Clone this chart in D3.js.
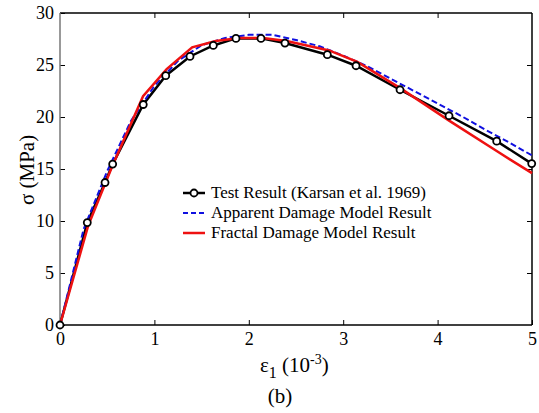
<!DOCTYPE html>
<html lang="en">
<head>
<meta charset="utf-8">
<title>Stress strain</title>
<script src="https://cdnjs.cloudflare.com/ajax/libs/d3/7.8.5/d3.min.js"></script>
<style>
body{margin:0;background:#fff;}
svg text{font-family:"Liberation Serif","DejaVu Serif","Times New Roman",serif !important;fill:#000;}
</style>
</head>
<body>
<script>
// test points (Karsan et al. 1969)
var testX = [0,0.289,0.477,0.558,0.882,1.12,1.377,1.624,1.864,2.129,2.383,2.832,3.136,3.602,4.121,4.626,4.997];
var testY = [0,9.85,13.7,15.47,21.2,23.97,25.82,26.88,27.56,27.56,27.11,25.99,24.93,22.62,20.12,17.68,15.52];

// apparent damage model
var appX = [0,0.25,0.5,0.75,1.0,1.25,1.5,1.75,2.0,2.25,2.5,2.75,3.0,3.25,3.5,3.75,4.0,4.25,4.5,4.75,5.0];
var appY = [0,9.2,14.8,19.6,23.0,25.4,26.9,27.6,27.9,27.9,27.4,26.8,25.9,24.9,23.7,22.5,21.3,20.1,18.8,17.6,16.3];

// fractal damage model
var fracX = [0,0.3,0.55,0.88,1.13,1.4,1.65,1.9,2.15,2.4,2.85,3.15,3.6,4.13,4.63,5.0];
var fracY = [0,9.6,15.2,22.0,24.6,26.7,27.3,27.6,27.6,27.3,26.4,25.3,22.8,19.6,16.7,14.6];

var xTicks = [0,1,2,3,4,5];
var yTicks = [0,5,10,15,20,25,30];
var legendLabels = ["Test Result (Karsan et al. 1969)","Apparent Damage Model Result","Fractal Damage Model Result"];

var w = 539, h = 413;
var svg = d3.select("body").append("svg").attr("width", w).attr("height", h);

var x = d3.scaleLinear().domain([0,5]).range([60,532]);
var y = d3.scaleLinear().domain([0,30]).range([325,13]);

var tl = 5;
//ticks inward, all four sides
svg.append("g").attr("transform","translate(0,325)")
    .call(d3.axisBottom(x).tickValues(xTicks).tickFormat(d3.format("d")).tickSizeInner(-tl).tickSizeOuter(0).tickPadding(tl+2))
    .call(g=>g.select(".domain").remove());
svg.append("g").attr("transform","translate(0,13)")
    .call(d3.axisTop(x).tickValues(xTicks.slice(1,5)).tickSizeInner(-tl).tickSizeOuter(0).tickFormat(""))
    .call(g=>g.select(".domain").remove());
svg.append("g").attr("transform","translate(60,0)")
    .call(d3.axisLeft(y).tickValues(yTicks).tickFormat(d3.format("d")).tickSizeInner(-tl).tickSizeOuter(0).tickPadding(tl+1))
    .call(g=>g.select(".domain").remove());
svg.append("g").attr("transform","translate(532,0)")
    .call(d3.axisRight(y).tickValues(yTicks.slice(1,6)).tickSizeInner(-tl).tickSizeOuter(0).tickFormat(""))
    .call(g=>g.select(".domain").remove());

svg.selectAll("g").attr("font-family",null);
svg.selectAll(".tick text").attr("font-size",18);
svg.selectAll(".tick line").attr("stroke","#000").attr("stroke-width",1);

// box
svg.append("line").attr("x1",60).attr("x2",532).attr("y1",13).attr("y2",13).attr("stroke","#000").attr("stroke-width",1.5);
svg.append("line").attr("x1",532).attr("x2",532).attr("y1",13).attr("y2",325).attr("stroke","#000").attr("stroke-width",1.5);
svg.append("line").attr("x1",60).attr("x2",532).attr("y1",325).attr("y2",325).attr("stroke","#000").attr("stroke-width",1.5);
svg.append("line").attr("x1",60).attr("x2",60).attr("y1",13).attr("y2",325).attr("stroke","#777").attr("stroke-width",1.5);

var line = d3.line().x(d=>x(d[0])).y(d=>y(d[1]));
var app = appX.map((v,i)=>[v,appY[i]]);
var frac = fracX.map((v,i)=>[v,fracY[i]]);
var test = testX.map((v,i)=>[v,testY[i]]);

svg.append("path").datum(test).attr("d",line).attr("fill","none").attr("stroke","#000").attr("stroke-width",2.5);
svg.append("path").datum(app).attr("d",line).attr("fill","none").attr("stroke","#1010e0").attr("stroke-width",2).attr("stroke-dasharray","6,3");
svg.append("path").datum(frac).attr("d",line).attr("fill","none").attr("stroke","#ee1111").attr("stroke-width",2.5);

svg.selectAll("circle.pt").data(test).enter().append("circle").attr("class","pt")
    .attr("cx",d=>x(d[0])).attr("cy",d=>y(d[1])).attr("r",3.5)
    .attr("fill","#fff").attr("stroke","#000").attr("stroke-width",1.8);

// legend
var lg = svg.append("g");
var rowsY = [193,213,233];
var colors = ["#000","#1010e0","#ee1111"];
legendLabels.forEach(function(lab,i){
    var ln = lg.append("line").attr("x1",183).attr("x2",205).attr("y1",rowsY[i]).attr("y2",rowsY[i])
        .attr("stroke",colors[i]).attr("stroke-width", i==1?2:2.5);
    if(i==1) ln.attr("stroke-dasharray","5,3");
    if(i==0) lg.append("circle").attr("cx",194).attr("cy",rowsY[i]).attr("r",3.5).attr("fill","#fff").attr("stroke","#000").attr("stroke-width",1.8);
    lg.append("text").attr("x",211).attr("y",rowsY[i]+5).attr("font-size",17).text(lab);
});

// axis labels
var xl = svg.append("text").attr("x",260).attr("y",372).attr("font-size",21);
xl.append("tspan").text("ε");
xl.append("tspan").attr("font-size",16).attr("dy",6).text("1");
xl.append("tspan").attr("dy",-6).text(" (10");
xl.append("tspan").attr("font-size",14).attr("dy",-8).text("-3");
xl.append("tspan").attr("dy",8).text(")");

svg.append("text").attr("x",280).attr("y",403).attr("text-anchor","middle").attr("font-size",21).text("(b)");

svg.append("text").attr("transform","translate(34,170) rotate(-90)").attr("text-anchor","middle")
    .attr("font-size",21).text("σ (MPa)");
</script>
</body>
</html>
